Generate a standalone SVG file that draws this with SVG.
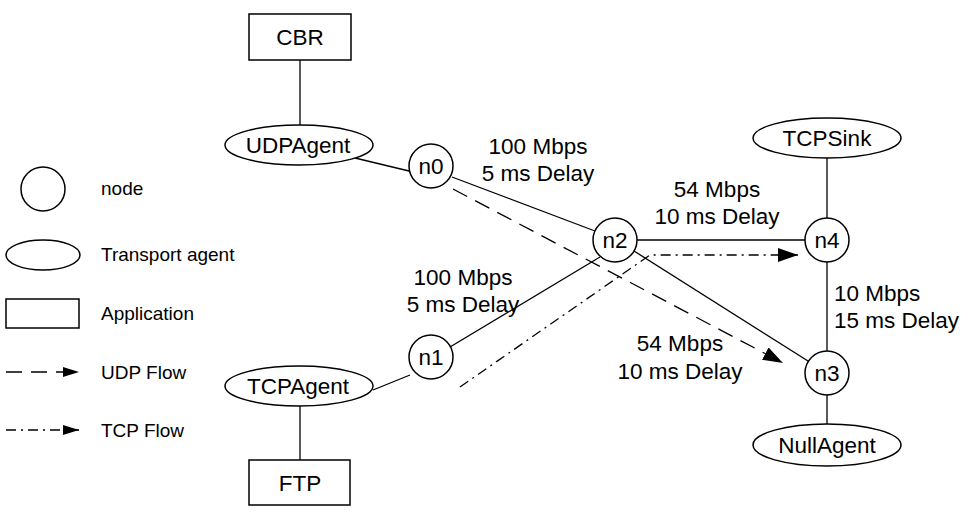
<svg xmlns="http://www.w3.org/2000/svg" width="968" height="514" viewBox="0 0 968 514">
<style>
.s{fill:#fff;stroke:#000;stroke-width:1.5}
.l{stroke:#000;stroke-width:1.3;fill:none}
.u{stroke:#000;stroke-width:1.3;fill:none;stroke-dasharray:16,9}
.t{stroke:#000;stroke-width:1.3;fill:none;stroke-dasharray:10,5,2,5}
text{font-family:"Liberation Sans",Arial,sans-serif;font-size:22.5px;fill:#000;text-anchor:middle}
.lg{font-size:19px;text-anchor:start}
.st{text-anchor:start}
</style>
<defs>
<marker id="ah" markerWidth="16" markerHeight="10" refX="16" refY="5" orient="auto" markerUnits="userSpaceOnUse">
<path d="M0,0 L16,5 L0,10 Z" fill="#000"/>
</marker>
<marker id="ahb" markerWidth="20" markerHeight="14" refX="20" refY="7" orient="auto" markerUnits="userSpaceOnUse">
<path d="M0,0 L20,7 L0,14 Z" fill="#000"/>
</marker>
</defs>
<g id="connectors">
<line class="l" x1="300" y1="60" x2="300" y2="125"/>
<line class="l" x1="355" y1="158" x2="409" y2="171"/>
<line class="l" x1="452" y1="177" x2="595" y2="231"/>
<line class="l" x1="450" y1="347" x2="600" y2="257"/>
<line class="l" x1="373" y1="390" x2="410" y2="375"/>
<line class="l" x1="300" y1="406" x2="300" y2="460"/>
<line class="l" x1="637" y1="240" x2="805" y2="240"/>
<line class="l" x1="634" y1="251" x2="808" y2="361"/>
<line class="l" x1="827" y1="262" x2="827" y2="351"/>
<line class="l" x1="827" y1="158" x2="827" y2="218"/>
<line class="l" x1="827" y1="395" x2="827" y2="424"/>
<line class="u" x1="453" y1="189" x2="783" y2="363" marker-end="url(#ahb)"/>
<polyline class="t" points="460,387 650,255 798,255" marker-end="url(#ahb)"/>
</g>
<g id="CBR"><rect class="s" x="249" y="14" width="102" height="46"/><text x="300" y="45">CBR</text></g>
<g id="UDPAgent"><ellipse class="s" cx="299" cy="145" rx="74" ry="20"/><text x="298" y="153">UDPAgent</text></g>
<g id="TCPAgent"><ellipse class="s" cx="299" cy="386" rx="74" ry="20"/><text x="298" y="394">TCPAgent</text></g>
<g id="FTP"><rect class="s" x="249" y="460" width="101" height="45"/><text x="300" y="491">FTP</text></g>
<g id="TCPSink"><ellipse class="s" cx="827" cy="138" rx="74" ry="20"/><text x="827" y="146">TCPSink</text></g>
<g id="NullAgent"><ellipse class="s" cx="827" cy="445" rx="74" ry="21"/><text x="827" y="453">NullAgent</text></g>
<g id="n0"><circle class="s" cx="431" cy="166" r="22"/><text x="431" y="174">n0</text></g>
<g id="n1"><circle class="s" cx="431" cy="357" r="22"/><text x="431" y="365">n1</text></g>
<g id="n2"><circle class="s" cx="615" cy="240" r="22"/><text x="615" y="248">n2</text></g>
<g id="n3"><circle class="s" cx="827" cy="373" r="22"/><text x="827" y="381">n3</text></g>
<g id="n4"><circle class="s" cx="827" cy="240" r="22"/><text x="827" y="248">n4</text></g>
<g id="labels">
<text x="538" y="154">100 Mbps</text><text x="538" y="181">5 ms Delay</text>
<text x="717" y="197">54 Mbps</text><text x="717" y="224">10 ms Delay</text>
<text x="463" y="285">100 Mbps</text><text x="463" y="312">5 ms Delay</text>
<text x="680" y="351">54 Mbps</text><text x="680" y="379">10 ms Delay</text>
<text class="st" x="834" y="301">10 Mbps</text><text class="st" x="834" y="328">15 ms Delay</text>
</g>
<g id="legend">
<circle class="s" cx="43" cy="189" r="22"/>
<text class="lg" x="101" y="195">node</text>
<ellipse class="s" cx="43" cy="255" rx="37" ry="15"/>
<text class="lg" x="101" y="261">Transport agent</text>
<rect class="s" x="6" y="299" width="73" height="29"/>
<text class="lg" x="101" y="320">Application</text>
<line class="u" x1="6" y1="372" x2="79" y2="372" stroke-dasharray="14,10" marker-end="url(#ah)"/>
<text class="lg" x="101" y="379">UDP Flow</text>
<line class="t" x1="6" y1="430" x2="79" y2="430" stroke-dasharray="8,4,2,4" marker-end="url(#ah)"/>
<text class="lg" x="101" y="437">TCP Flow</text>
</g>
</svg>
